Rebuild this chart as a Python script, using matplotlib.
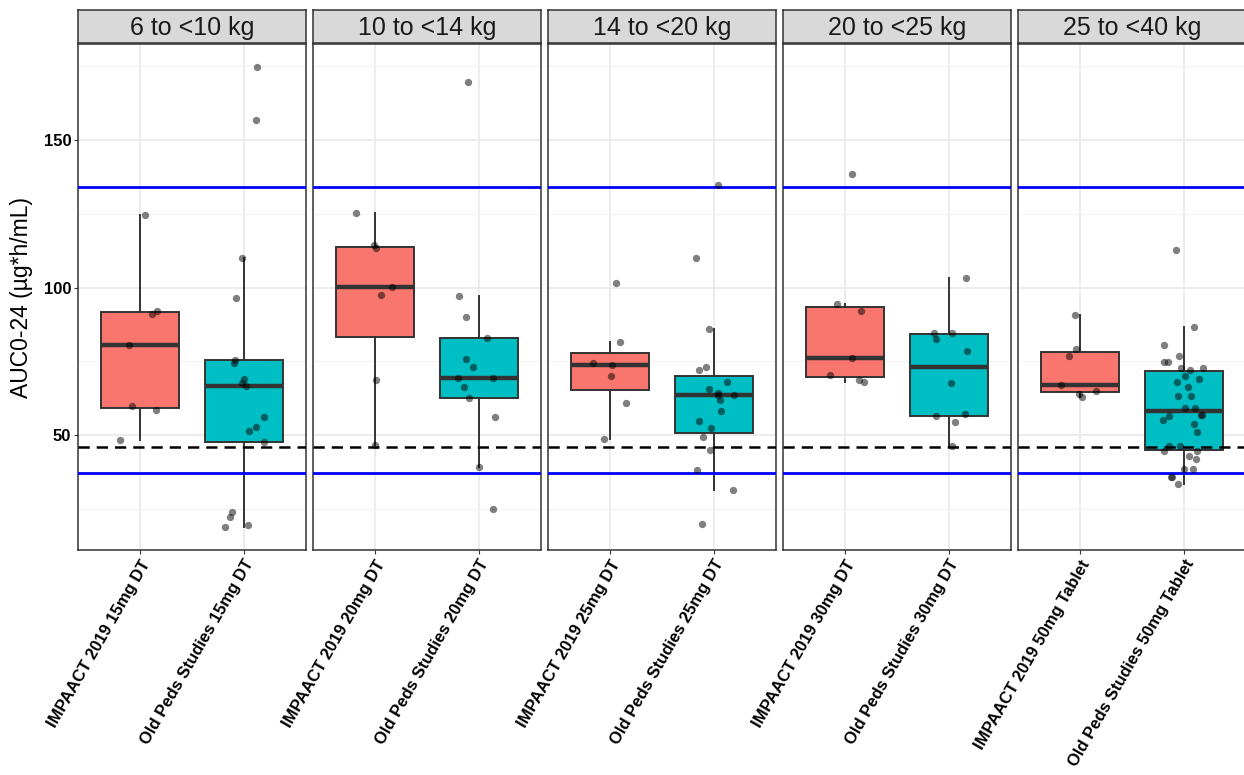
import numpy as np
import matplotlib.pyplot as plt

plt.rcParams['font.family'] = ['Liberation Sans', 'DejaVu Sans']

# weight bands (facets)
groups = ["6 to <10 kg", "10 to <14 kg", "14 to <20 kg", "20 to <25 kg", "25 to <40 kg"]

impaact_labels = ["IMPAACT 2019 15mg DT", "IMPAACT 2019 20mg DT", "IMPAACT 2019 25mg DT",
                  "IMPAACT 2019 30mg DT", "IMPAACT 2019 50mg Tablet"]
old_labels = ["Old Peds Studies 15mg DT", "Old Peds Studies 20mg DT", "Old Peds Studies 25mg DT",
              "Old Peds Studies 30mg DT", "Old Peds Studies 50mg Tablet"]

# AUC0-24 values (ug*h/mL)
impaact_6_10 = [124.7, 92.1, 91.1, 80.6, 60.0, 58.4, 48.4]
old_6_10 = [174.8, 156.8, 109.9, 96.5, 75.5, 74.5, 67.8, 69.0, 66.6, 56.0, 52.8, 51.5,
            47.5, 23.9, 22.3, 19.5, 18.8]

impaact_10_14 = [125.3, 113.3, 114.5, 100.2, 97.6, 68.6, 46.5]
old_10_14 = [169.8, 97.3, 90.0, 83.0, 75.9, 73.1, 69.4, 69.4, 66.4, 62.6, 56.2, 39.0, 24.8]

impaact_14_20 = [101.7, 81.5, 74.4, 73.8, 69.9, 60.8, 48.5]
old_14_20 = [134.8, 110.0, 85.9, 73.1, 72.2, 68.0, 65.5, 63.7, 64.4, 63.7, 61.9, 58.1,
             54.7, 52.4, 49.2, 45.0, 38.3, 31.2, 19.8]

impaact_20_25 = [138.5, 94.5, 92.2, 76.2, 70.5, 68.6, 68.0]
old_20_25 = [103.3, 84.7, 84.7, 82.4, 78.5, 67.8, 56.3, 57.1, 54.4, 46.2]

impaact_25_40 = [90.7, 79.3, 76.9, 67.1, 65.0, 63.9, 63.0]
old_25_40 = [112.9, 86.7, 80.6, 76.8, 74.9, 74.9, 72.6, 72.2, 72.6, 69.9, 69.1, 68.1,
             66.4, 63.2, 63.2, 59.3, 59.3, 56.9, 56.3, 56.8, 55.1, 53.9, 51.1, 46.3,
             46.3, 44.5, 44.6, 42.9, 41.7, 38.6, 38.6, 35.6, 35.6, 33.4]

impaact = [impaact_6_10, impaact_10_14, impaact_14_20, impaact_20_25, impaact_25_40]
old = [old_6_10, old_10_14, old_14_20, old_20_25, old_25_40]

# reference lines
upper_ref = 134.0
lower_ref = 37.0
target_ref = 46.0

colors = ["#F8766D", "#00BFC4"]

all_vals = np.concatenate([np.concatenate([a, b]) for a, b in zip(impaact, old)])
rng_span = all_vals.max() - all_vals.min()
ylim = (all_vals.min() - 0.05 * rng_span, all_vals.max() + 0.05 * rng_span)

W, H = 1244, 775
fig = plt.figure(figsize=(W / 100, H / 100), dpi=100)

jit = np.random.default_rng(7)

for i, grp in enumerate(groups):
    left = (78 + i * 235) / W
    ax = fig.add_axes([left, (H - 550) / H, 228 / W, 506 / H])
    data = [impaact[i], old[i]]

    bp = ax.boxplot(data, positions=[0, 1], widths=0.75, patch_artist=True,
                    showfliers=False, whis=1.5,
                    boxprops=dict(edgecolor="#333333", linewidth=1.4),
                    medianprops=dict(color="#333333", linewidth=3.2),
                    whiskerprops=dict(color="#333333", linewidth=1.4),
                    capprops=dict(linewidth=0))
    for patch, c in zip(bp['boxes'], colors):
        patch.set_facecolor(c)

    for k, vals in enumerate(data):
        xs = k + jit.uniform(-0.2, 0.2, len(vals))
        ax.scatter(xs, vals, s=28, color="black", alpha=0.5, linewidths=0, zorder=4)

    ax.axhline(upper_ref, color="#0000FF", linewidth=2.0, zorder=3)
    ax.axhline(lower_ref, color="#0000FF", linewidth=2.0, zorder=3)
    ax.axhline(target_ref, color="black", linewidth=1.8, dashes=(4.5, 2.8), zorder=3)

    ax.set_xlim(-0.6, 1.6)
    ax.set_ylim(*ylim)
    ax.set_yticks([50, 100, 150])
    ax.set_yticks([25, 75, 125, 175], minor=True)
    ax.set_xticks([0, 1])
    ax.set_xticklabels([impaact_labels[i], old_labels[i]], rotation=60, ha="right",
                       va="top", rotation_mode="anchor", fontsize=12, fontweight="bold")
    ax.grid(which="major", color="#EBEBEB", linewidth=1.3)
    ax.grid(which="minor", axis="y", color="#F3F3F3", linewidth=0.8)
    ax.set_axisbelow(True)
    ax.tick_params(axis="x", length=2.75, color="#333333", pad=2.5)
    ax.tick_params(axis="y", which="minor", length=0)
    if i == 0:
        ax.tick_params(axis="y", length=2.75, color="#333333", labelsize=12, pad=2)
        for lab in ax.get_yticklabels():
            lab.set_fontweight("bold")
    else:
        ax.tick_params(axis="y", length=0, labelleft=False)
    for sp in ax.spines.values():
        sp.set_color("#333333")
        sp.set_linewidth(1.1)

    # facet strip
    sax = fig.add_axes([left, (H - 43) / H, 228 / W, 33 / H])
    sax.set_facecolor("#D9D9D9")
    sax.set_xticks([])
    sax.set_yticks([])
    for sp in sax.spines.values():
        sp.set_color("#333333")
        sp.set_linewidth(1.1)
    sax.text(0.5, 0.45, grp, ha="center", va="center", fontsize=18, color="#1A1A1A",
             transform=sax.transAxes)

fig.text(22 / W, 1 - 297 / H, "AUC0-24 (\u00b5g*h/mL)", rotation=90, ha="center",
         va="center", fontsize=16.5)

fig.savefig("out.png", dpi=100)
